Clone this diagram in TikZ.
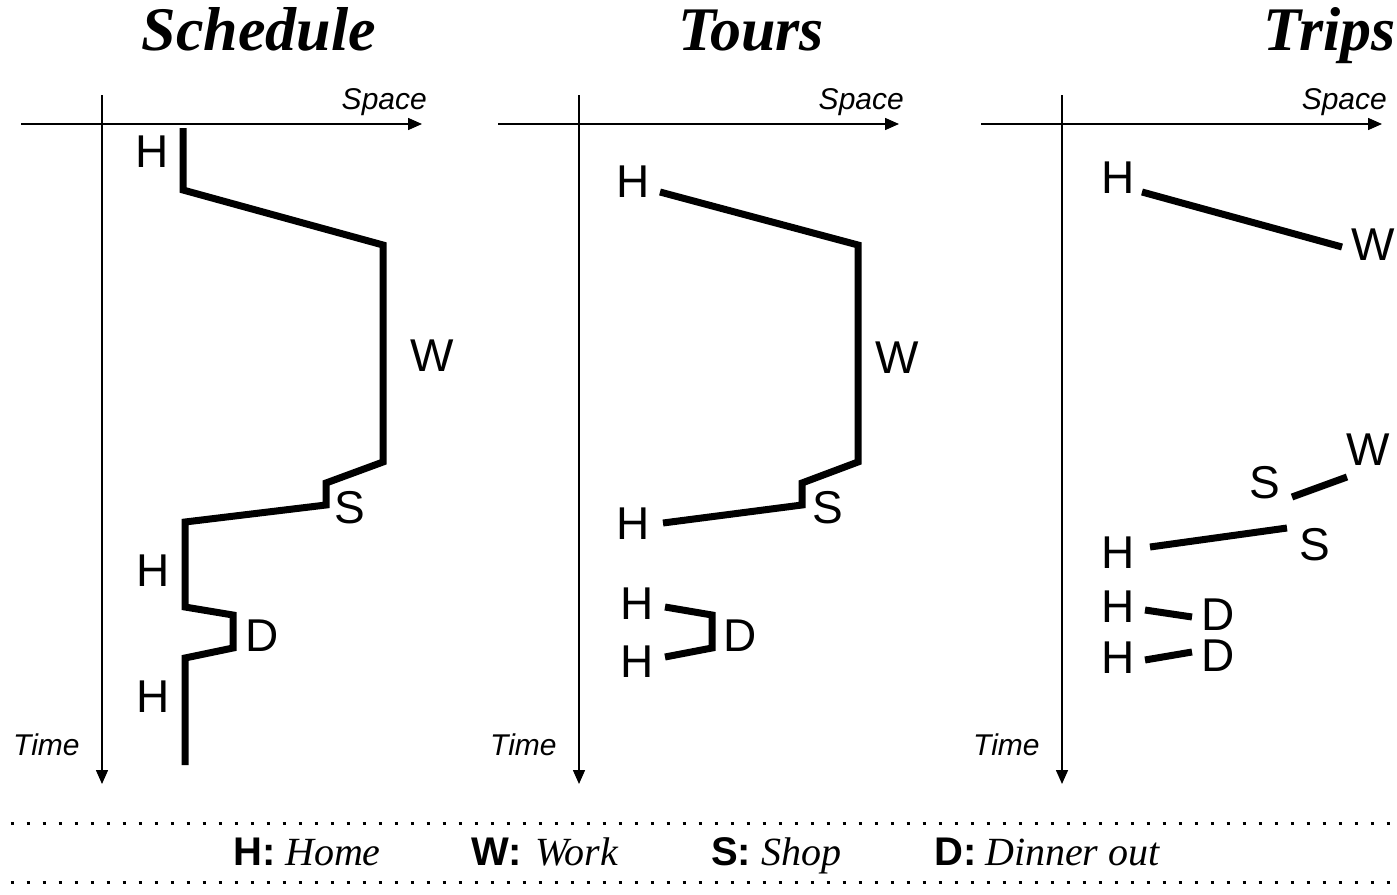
\documentclass[tikz,border=0pt]{standalone}
\usepackage{fontspec}
\setmainfont{Liberation Serif}
\setsansfont{Liberation Sans}
\usetikzlibrary{arrows.meta}

\tikzset{
  axisline/.style={line width=1.5pt, -{Triangle[length=14pt,width=12pt]}},
  route/.style={line width=7pt, miter limit=10, line join=miter},
  place/.style={inner sep=0pt, font=\sffamily\fontsize{46}{46}\selectfont},
  axislabel/.style={inner sep=0pt, font=\sffamily\itshape\fontsize{30}{30}\selectfont},
  paneltitle/.style={inner sep=0pt, anchor=base, font=\rmfamily\bfseries\itshape\fontsize{62}{62}\selectfont},
  keyletter/.style={inner sep=0pt, anchor=base west, font=\sffamily\bfseries\fontsize{40}{40}\selectfont},
  keyword/.style={inner sep=0pt, anchor=base west, font=\rmfamily\itshape\fontsize{40}{40}\selectfont},
  dotrule/.style={line width=3pt, dash pattern=on 3pt off 13pt}
}

\begin{document}
\begin{tikzpicture}[x=1pt, y=-1pt]
\useasboundingbox (0,0) rectangle (1397,894);

% panel titles
\node[paneltitle] (t1) at (259,50) {Schedule};
\node[paneltitle] (t2) at (751,50) {Tours};
\node[paneltitle] (t3) at (1330,50) {Trips};

% space-time axes of the three panels
\foreach \dx [count=\i] in {0,477,960} {
  \coordinate (vtop\i) at (102+\dx,95);
  \coordinate (vend\i) at (102+\dx,784);
  \coordinate (hstart\i) at (21+\dx,124);
  \coordinate (hend\i) at (422+\dx,124);
  \draw[axisline] (vtop\i) -- (vend\i);
  \draw[axisline] (hstart\i) -- (hend\i);
  \node[axislabel, anchor=base east] (space\i) at (427+\dx,109) {Space};
  \node[axislabel, anchor=base west] (time\i) at (13+\dx,755) {Time};
}

% Schedule: the whole day as one path
\draw[route] (183,128) -- (183,190) -- (383,245) -- (383,462) -- (326,483)
  -- (326,505) -- (185,522) -- (185,607) -- (233,615) -- (233,648)
  -- (185,658) -- (185,765);
\node[place] (s-h1) at (152,152) {H};
\node[place] (s-w)  at (432,356) {W};
\node[place] (s-s)  at (350,508) {S};
\node[place] (s-h2) at (153,571) {H};
\node[place] (s-d)  at (262,636) {D};
\node[place] (s-h3) at (153,697) {H};

% Tours: home-based tours
\draw[route] (660,192) -- (858,245) -- (858,462) -- (802,483) -- (802,505) -- (663,523);
\draw[route] (665,607) -- (712,615) -- (712,648) -- (665,657);
\node[place] (o-h1) at (633,182) {H};
\node[place] (o-w)  at (897,358) {W};
\node[place] (o-s)  at (828,508) {S};
\node[place] (o-h2) at (633,524) {H};
\node[place] (o-h3) at (637,604) {H};
\node[place] (o-d)  at (740,636) {D};
\node[place] (o-h4) at (637,662) {H};

% Trips: single trips
\node[place] (p-h1) at (1118,178) {H};
\node[place] (p-w1) at (1373,245) {W};
\node[place] (p-s1) at (1265,483) {S};
\node[place] (p-w2) at (1368,450) {W};
\node[place] (p-s2) at (1315,545) {S};
\node[place] (p-h2) at (1118,553) {H};
\node[place] (p-h3) at (1118,607) {H};
\node[place] (p-d1) at (1218,615) {D};
\node[place] (p-h4) at (1118,658) {H};
\node[place] (p-d2) at (1218,656) {D};
\draw[route] (1142,192) -- (1342,247);
\draw[route] (1292,497) -- (1347,477);
\draw[route] (1150,547) -- (1287,528);
\draw[route] (1145,610) -- (1192,617);
\draw[route] (1145,660) -- (1192,652);

% legend between dotted rules
\coordinate (r1a) at (10.5,823);
\coordinate (r1b) at (1397,823);
\coordinate (r2a) at (10.5,882);
\coordinate (r2b) at (1397,882);
\draw[dotrule] (r1a) -- (r1b);
\draw[dotrule] (r2a) -- (r2b);
\node[keyletter] (kh) at (233,865) {H:};
\node[keyword]   (vh) at (285,865) {Home};
\node[keyletter] (kw) at (471,865) {W:};
\node[keyword]   (vw) at (535,865) {Work};
\node[keyletter] (ks) at (711,865) {S:};
\node[keyword]   (vs) at (761,865) {Shop};
\node[keyletter] (kd) at (934,865) {D:};
\node[keyword]   (vd) at (985,865) {Dinner out};
\end{tikzpicture}
\end{document}
